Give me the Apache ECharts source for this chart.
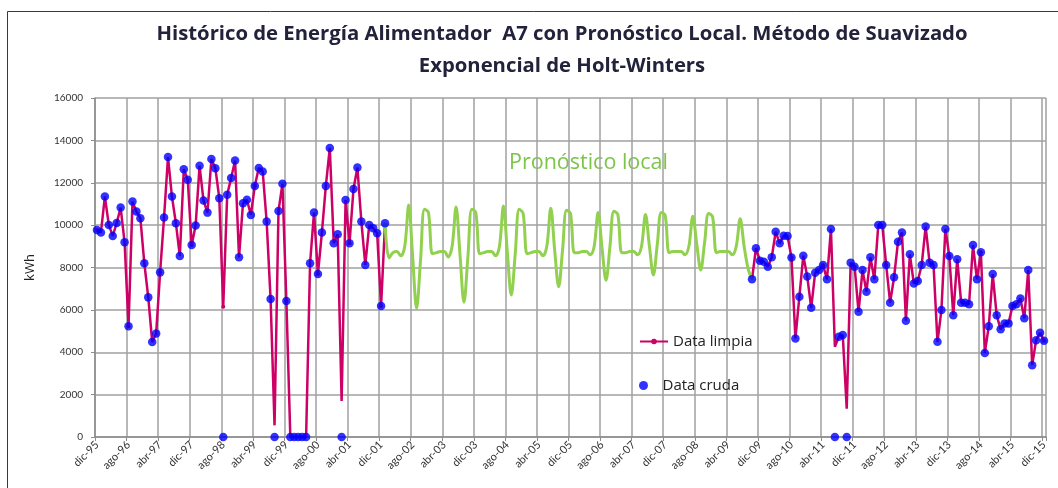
<!DOCTYPE html>
<html lang="es">
<head>
<meta charset="UTF-8">
<title>Histórico de Energía Alimentador A7</title>
<script src="https://cdn.jsdelivr.net/npm/echarts@6/dist/echarts.min.js"></script>
<style>
  html, body { margin: 0; padding: 0; background: #fff; }
  #chart { width: 1058px; height: 488px; }
</style>
</head>
<body>
<div id="chart"></div>
<script>
// meses dic-95 .. dic-15 (241 categorias)
var mesesAbr = ["ene", "feb", "mar", "abr", "may", "jun", "jul", "ago", "sep", "oct", "nov", "dic"];
var categorias = [];
for (var i = 0; i < 241; i++) {
  var mIdx = (11 + i) % 12;
  var anio = 1995 + Math.floor((11 + i) / 12);
  categorias.push(mesesAbr[mIdx] + "-" + String(anio).slice(2));
}

// Data limpia, dic-95 .. ene-02
var limpiaInicio = [
  9770, 9650, 11350, 10010, 9490, 10100, 10830, 9190, 5230, 11110, 10640, 10330,
  8200, 6590, 4480, 4890, 7770, 10360, 13210, 11350, 10090, 8540, 12640, 12140,
  9060, 9980, 12800, 11160, 10590, 13120, 12690, 11270, 6150, 11430, 12220, 13050,
  8480, 11030, 11200, 10480, 11850, 12700, 12530, 10170, 6510, 550, 10670, 11950,
  6420, 0, 0, 0, 0, 0, 8200, 10590, 7690, 9650, 11850, 13640,
  9140, 9570, 1700, 11190, 9140, 11700, 12720, 10170, 8120, 10010, 9850, 9620,
  6180, 10090
];
// Data cruda, dic-95 .. ene-02
var crudaInicio = [
  9770, 9650, 11350, 10010, 9490, 10100, 10830, 9190, 5230, 11110, 10640, 10330,
  8200, 6590, 4480, 4890, 7770, 10360, 13210, 11350, 10090, 8540, 12640, 12140,
  9060, 9980, 12800, 11160, 10590, 13120, 12690, 11270, 0, 11430, 12220, 13050,
  8480, 11030, 11200, 10480, 11850, 12700, 12530, 10170, 6510, 0, 10670, 11950,
  6420, 0, 0, 0, 0, 0, 8200, 10590, 7690, 9650, 11850, 13640,
  9140, 9570, 0, 11190, 9140, 11700, 12720, 10170, 8120, 10010, 9850, 9620,
  6180, 10090
];
// Pronostico local, ene-02 .. oct-09
var pronostico = [
  10090, 8450, 8700, 8750, 8550, 9000, 10950, 8500, 6070, 8350, 10750, 10600,
  8650, 8700, 8750, 8750, 8500, 9000, 10850, 8600, 6360, 8500, 10750, 10600,
  8650, 8700, 8750, 8750, 8550, 9000, 10900, 8700, 6700, 8650, 10750, 10550,
  8650, 8700, 8750, 8750, 8550, 9000, 10800, 8800, 7090, 8850, 10700, 10550,
  8700, 8700, 8750, 8750, 8600, 9000, 10600, 8900, 7400, 9000, 10650, 10500,
  8700, 8700, 8750, 8750, 8600, 9000, 10500, 9000, 7650, 9100, 10600, 10450,
  8700, 8750, 8750, 8750, 8600, 9000, 10420, 9100, 7880, 9200, 10550, 10400,
  8700, 8750, 8750, 8750, 8600, 9000, 10300, 9000, 7950, 7440
];
// Data limpia, oct-09 .. dic-15
var limpiaFinal = [
  7440, 8910, 8320, 8270, 8040, 8480, 9690, 9140, 9500, 9490, 8470, 4650,
  6620, 8560, 7570, 6100, 7750, 7880, 8120, 7440, 9820, 4260, 4730, 4810,
  1340, 8230, 8040, 5910, 7880, 6860, 8480, 7440, 10010, 10010, 8120, 6340,
  7540, 9220, 9650, 5490, 8620, 7250, 7360, 8120, 9930, 8230, 8120, 4490,
  5990, 9820, 8540, 5750, 8390, 6340, 6340, 6260, 9060, 7440, 8720, 3970,
  5230, 7690, 5750, 5080, 5360, 5360, 6180, 6260, 6540, 5600, 7880, 3390,
  4570, 4920, 4540
];
// Data cruda, oct-09 .. dic-15
var crudaFinal = [
  7440, 8910, 8320, 8270, 8040, 8480, 9690, 9140, 9500, 9490, 8470, 4650,
  6620, 8560, 7570, 6100, 7750, 7880, 8120, 7440, 9820, 0, 4730, 4810,
  0, 8230, 8040, 5910, 7880, 6860, 8480, 7440, 10010, 10010, 8120, 6340,
  7540, 9220, 9650, 5490, 8620, 7250, 7360, 8120, 9930, 8230, 8120, 4490,
  5990, 9820, 8540, 5750, 8390, 6340, 6340, 6260, 9060, 7440, 8720, 3970,
  5230, 7690, 5750, 5080, 5360, 5360, 6180, 6260, 6540, 5600, 7880, 3390,
  4570, 4920, 4540
];
var inicioPronostico = 73;
var inicioFinal = 166;

// ejes
var yMin = 0, yMax = 16000, yPaso = 2000;

function colocar(lista, tramos) {
  tramos.forEach(function (t) {
    t.datos.forEach(function (v, k) { lista[t.desde + k] = v; });
  });
  return lista;
}
function vacia() {
  var a = [];
  for (var k = 0; k < categorias.length; k++) a.push(null);
  return a;
}

var serieLimpia = colocar(vacia(), [{ desde: 0, datos: limpiaInicio }, { desde: inicioFinal, datos: limpiaFinal }]);
var serieCruda = colocar(vacia(), [{ desde: 0, datos: crudaInicio }, { desde: inicioFinal, datos: crudaFinal }]);
var seriePron = colocar(vacia(), [{ desde: inicioPronostico, datos: pronostico }]);

var chart = echarts.init(document.getElementById("chart"));
var fuente = "Lato, 'Open Sans', sans-serif";
var fuenteTitulo = "'Open Sans', Lato, sans-serif";

chart.setOption({
  animation: false,
  backgroundColor: "#fff",
  grid: { left: 95, right: 12, top: 98, bottom: 51 },
  legend: [
    {
      data: ["Data limpia"],
      left: 634, top: 329,
      itemWidth: 28, itemHeight: 7,
      textStyle: { fontFamily: fuenteTitulo, fontSize: 15, color: "#222" }
    },
    {
      data: ["Data cruda"],
      left: 634, top: 373,
      itemWidth: 28, itemHeight: 9,
      textStyle: { fontFamily: fuenteTitulo, fontSize: 15, color: "#222" }
    }
  ],
  xAxis: {
    type: "category",
    data: categorias,
    boundaryGap: true,
    axisLine: { lineStyle: { color: "#8c8c8c", width: 1.5 } },
    axisTick: { show: true, interval: 7, length: 4, lineStyle: { color: "#8c8c8c" } },
    axisLabel: {
      interval: 7, rotate: 45, fontFamily: fuente, fontSize: 11, color: "#333", margin: 6
    },
    splitLine: { show: true, interval: 7, lineStyle: { color: "#a0a0a0", width: 1.5 } }
  },
  yAxis: {
    type: "value",
    min: yMin, max: yMax, interval: yPaso,
    name: "kWh",
    nameLocation: "middle",
    nameGap: 58,
    nameRotate: 90,
    nameTextStyle: { fontFamily: fuenteTitulo, fontSize: 13, color: "#222" },
    axisLine: { show: true, lineStyle: { color: "#8c8c8c", width: 1.5 } },
    axisTick: { show: true, length: 4, lineStyle: { color: "#8c8c8c" } },
    axisLabel: {
      fontFamily: fuente, fontSize: 10, color: "#333", margin: 12,
      formatter: function (v) { return String(v); }
    },
    splitLine: { show: true, lineStyle: { color: "#a0a0a0", width: 1.5 } }
  },
  series: [
    {
      name: "Data limpia",
      type: "line",
      data: serieLimpia,
      connectNulls: false,
      symbol: "circle",
      symbolSize: 4,
      itemStyle: { color: "#CC0066" },
      lineStyle: { color: "#CC0066", width: 2.5 },
      z: 2
    },
    {
      name: "Pronóstico local",
      type: "line",
      data: seriePron,
      connectNulls: false,
      smooth: 0.35,
      showSymbol: false,
      itemStyle: { color: "#92D050" },
      lineStyle: { color: "#92D050", width: 3 },
      z: 2
    },
    {
      name: "Data cruda",
      type: "scatter",
      data: serieCruda,
      symbol: "circle",
      symbolSize: 8.5,
      itemStyle: { color: "#0000FF" },
      z: 3
    }
  ],
  graphic: [
    {
      type: "rect",
      shape: { x: 7.5, y: 11.5, width: 1060, height: 500 },
      style: { fill: "none", stroke: "#3a3a3a", lineWidth: 1 },
      silent: true
    },
    {
      type: "text",
      x: 562, y: 50,
      style: {
        text: "Histórico de Energía Alimentador  A7 con Pronóstico Local. Método de Suavizado\nExponencial de Holt-Winters",
        align: "center", verticalAlign: "middle",
        fontFamily: fuenteTitulo, fontSize: 20.3, fontWeight: "bold", lineHeight: 32,
        fill: "#22223a"
      }
    },
    {
      type: "text",
      x: 509, y: 163,
      style: {
        text: "Pronóstico local",
        align: "left", verticalAlign: "middle",
        fontFamily: fuenteTitulo, fontSize: 21.5, fill: "#7CC54B"
      }
    }
  ]
});
</script>
</body>
</html>
